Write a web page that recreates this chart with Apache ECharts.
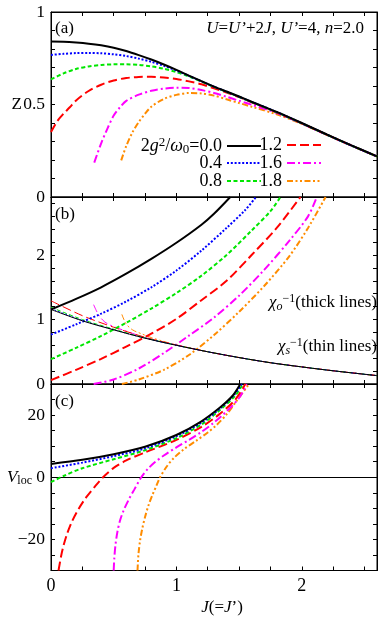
<!DOCTYPE html>
<html><head><meta charset="utf-8">
<script src="https://cdn.jsdelivr.net/npm/echarts@6/dist/echarts.min.js"></script>
<style>html,body{margin:0;padding:0;background:#fff}#c{width:382px;height:620px}</style>
</head><body><div id="c"></div><script>
const FONT = 'Liberation Serif';
const names = ['0.0', '0.4', '0.8', '1.2', '1.6', '1.8'];
const colors = ['#000000', '#0000ff', '#00e600', '#ff0000', '#ff00ff', '#ff8c00'];
const dashes = ['solid', [2, 1.8], [4, 2.5], [9, 4], [8, 3, 2, 3], [6, 2.5, 2, 2.5, 2, 2.5]];

// x ticks
const xTickLabels = ['0', '1', '2'];

// ---------- panel (a): Z vs J ----------
const aJ00 = [0, 0.1, 0.2, 0.3, 0.4, 0.5, 0.6, 0.7, 0.8, 0.9, 1.0, 1.1, 1.2, 1.3, 1.4, 1.5, 1.6, 1.8, 2.0, 2.2, 2.4, 2.6];
const aZ00 = [0.840, 0.839, 0.835, 0.829, 0.820, 0.807, 0.789, 0.767, 0.743, 0.716, 0.687, 0.656, 0.626, 0.597, 0.570, 0.543, 0.515, 0.460, 0.400, 0.338, 0.278, 0.220];
const aJ04 = [0, 0.1, 0.2, 0.3, 0.4, 0.5, 0.6, 0.7, 0.8, 0.9, 1.0, 1.1, 1.2, 1.3, 1.4, 1.5, 1.6, 1.8, 2.0, 2.2, 2.4, 2.6];
const aZ04 = [0.768, 0.774, 0.778, 0.779, 0.777, 0.771, 0.762, 0.748, 0.731, 0.709, 0.684, 0.655, 0.625, 0.596, 0.569, 0.542, 0.514, 0.459, 0.399, 0.337, 0.277, 0.219];
const aJ08 = [0, 0.1, 0.2, 0.3, 0.4, 0.5, 0.6, 0.7, 0.8, 0.9, 1.0, 1.1, 1.2, 1.3, 1.4, 1.5, 1.6, 1.8, 2.0, 2.2, 2.4, 2.6];
const aZ08 = [0.636, 0.668, 0.692, 0.706, 0.714, 0.717, 0.717, 0.714, 0.706, 0.693, 0.675, 0.652, 0.624, 0.595, 0.568, 0.541, 0.513, 0.458, 0.398, 0.337, 0.277, 0.219];
const aJ12 = [0, 0.05, 0.1, 0.15, 0.2, 0.3, 0.4, 0.5, 0.6, 0.7, 0.8, 0.9, 1.0, 1.1, 1.2, 1.3, 1.4, 1.5, 1.6, 1.8, 2.0, 2.2, 2.4, 2.6];
const aZ12 = [0.351, 0.410, 0.450, 0.485, 0.522, 0.573, 0.607, 0.630, 0.643, 0.649, 0.650, 0.646, 0.638, 0.625, 0.609, 0.588, 0.565, 0.540, 0.512, 0.457, 0.398, 0.337, 0.277, 0.219];
const aJ16 = [0.345, 0.4, 0.45, 0.5, 0.55, 0.6, 0.7, 0.8, 0.9, 1.0, 1.1, 1.2, 1.3, 1.4, 1.5, 1.6, 1.8, 2.0, 2.2, 2.4, 2.6];
const aZ16 = [0.186, 0.290, 0.370, 0.440, 0.485, 0.520, 0.553, 0.574, 0.586, 0.591, 0.589, 0.578, 0.562, 0.542, 0.520, 0.499, 0.454, 0.397, 0.336, 0.277, 0.219];
const aJ18 = [0.56, 0.6, 0.65, 0.7, 0.75, 0.8, 0.9, 1.0, 1.1, 1.2, 1.3, 1.4, 1.5, 1.6, 1.8, 2.0, 2.2, 2.4, 2.6];
const aZ18 = [0.198, 0.275, 0.350, 0.405, 0.450, 0.488, 0.530, 0.552, 0.562, 0.560, 0.548, 0.528, 0.508, 0.488, 0.447, 0.396, 0.336, 0.277, 0.219];

// ---------- panel (b): chi_o^-1 (thick) ----------
const bJ00 = [0, 0.2, 0.4, 0.6, 0.8, 1.0, 1.2, 1.3, 1.43];
const bO00 = [1.156, 1.32, 1.50, 1.71, 1.94, 2.19, 2.47, 2.64, 2.9];
const bJ04 = [0, 0.2, 0.4, 0.6, 0.8, 1.0, 1.2, 1.4, 1.55, 1.635];
const bO04 = [0.766, 0.925, 1.09, 1.28, 1.50, 1.76, 2.07, 2.42, 2.70, 2.9];
const bJ08 = [0, 0.2, 0.4, 0.6, 0.8, 1.0, 1.2, 1.4, 1.6, 1.75, 1.83];
const bO08 = [0.385, 0.56, 0.745, 0.95, 1.17, 1.41, 1.68, 2.00, 2.38, 2.68, 2.9];
const bJ12 = [0, 0.2, 0.4, 0.6, 0.8, 1.0, 1.2, 1.4, 1.6, 1.8, 1.99];
const bO12 = [0.06, 0.22, 0.39, 0.58, 0.78, 1.01, 1.30, 1.60, 2.00, 2.42, 2.9];
const bJ16 = [0.34, 0.5, 0.7, 0.9, 1.1, 1.3, 1.5, 1.7, 1.9, 2.05, 2.12];
const bO16 = [0, 0.07, 0.24, 0.48, 0.75, 1.03, 1.37, 1.77, 2.22, 2.60, 2.9];
const bJ18 = [0.565, 0.7, 0.9, 1.1, 1.3, 1.5, 1.7, 1.9, 2.05, 2.19];
const bO18 = [0, 0.07, 0.22, 0.45, 0.76, 1.12, 1.52, 1.98, 2.42, 2.9];

// ---------- panel (b): chi_s^-1 (thin) ----------
const sJ00 = [0, 0.25, 0.5, 0.75, 1.0, 1.25, 1.5, 1.75, 2.0, 2.25, 2.6];
const sS00 = [1.156, 0.98, 0.84, 0.71, 0.60, 0.50, 0.41, 0.33, 0.265, 0.205, 0.13];
const sJ04 = [0, 0.25, 0.5, 0.75, 1.0, 1.25, 1.5, 1.75, 2.0, 2.25, 2.6];
const sS04 = [1.17, 0.985, 0.842, 0.711, 0.60, 0.50, 0.41, 0.33, 0.265, 0.205, 0.13];
const sJ08 = [0, 0.25, 0.5, 0.75, 1.0, 1.25, 1.5, 1.75, 2.0, 2.25, 2.6];
const sS08 = [1.19, 1.0, 0.85, 0.715, 0.602, 0.50, 0.41, 0.33, 0.265, 0.205, 0.13];
const sJ12 = [0, 0.25, 0.5, 0.75, 1.0, 1.25, 1.5, 1.75, 2.0, 2.25, 2.6];
const sS12 = [1.29, 1.06, 0.88, 0.725, 0.605, 0.50, 0.41, 0.33, 0.265, 0.205, 0.13];
const sJ16 = [0.34, 0.38, 0.43, 0.5, 0.6, 0.75, 1.0, 1.25, 1.5, 1.75, 2.0, 2.25, 2.6];
const sS16 = [1.23, 1.07, 0.96, 0.89, 0.82, 0.72, 0.605, 0.50, 0.41, 0.33, 0.265, 0.205, 0.13];
const sJ18 = [0.565, 0.6, 0.65, 0.72, 0.8, 0.9, 1.0, 1.25, 1.5, 1.75, 2.0, 2.25, 2.6];
const sS18 = [1.08, 0.93, 0.84, 0.78, 0.72, 0.66, 0.605, 0.50, 0.41, 0.33, 0.265, 0.205, 0.13];

// ---------- panel (c): V_loc ----------
const cJ00 = [0, 0.25, 0.5, 0.75, 1.0, 1.2, 1.35, 1.45, 1.51];
const cV00 = [4.3, 5.6, 7.4, 9.8, 13.6, 18.0, 22.5, 26.3, 30];
const cJ04 = [0, 0.25, 0.5, 0.75, 1.0, 1.2, 1.35, 1.46, 1.52];
const cV04 = [2.9, 4.7, 6.8, 9.3, 13.2, 17.6, 22.2, 26.5, 30];
const cJ08 = [0, 0.1, 0.25, 0.5, 0.75, 1.0, 1.2, 1.35, 1.47, 1.53];
const cV08 = [-1.6, 0.4, 2.9, 5.8, 8.7, 12.6, 17.0, 21.7, 26.3, 30];
const cJ12 = [0.06, 0.08, 0.1, 0.13, 0.17, 0.22, 0.28, 0.35, 0.415, 0.5, 0.6, 0.75, 1.0, 1.2, 1.35, 1.47, 1.55];
const cV12 = [-30, -25.5, -22, -18, -14, -10.2, -6.5, -3.0, 0, 3.0, 5.4, 8.0, 12.0, 16.2, 20.5, 25.0, 30];
const cJ16 = [0.5, 0.505, 0.515, 0.53, 0.55, 0.58, 0.62, 0.665, 0.72, 0.77, 0.83, 0.9, 1.0, 1.1, 1.2, 1.3, 1.4, 1.5, 1.56];
const cV16 = [-30, -26, -21.5, -17.5, -14, -10.6, -7.2, -3.9, 0, 2.6, 4.9, 7.0, 9.6, 12.0, 14.6, 17.6, 21.2, 25.5, 30];
const cJ18 = [0.69, 0.697, 0.71, 0.728, 0.75, 0.778, 0.81, 0.84, 0.87, 0.92, 0.98, 1.06, 1.16, 1.25, 1.32, 1.4, 1.47, 1.58];
const cV18 = [-30, -25, -20.5, -16.5, -12.8, -9.0, -5.6, -2.8, 0, 3.3, 6.2, 9.0, 11.8, 14.4, 16.8, 20.2, 24.0, 30];

const panelA = [[aJ00, aZ00], [aJ04, aZ04], [aJ08, aZ08], [aJ12, aZ12], [aJ16, aZ16], [aJ18, aZ18]];
const panelBo = [[bJ00, bO00], [bJ04, bO04], [bJ08, bO08], [bJ12, bO12], [bJ16, bO16], [bJ18, bO18]];
const panelBs = [[sJ00, sS00], [sJ04, sS04], [sJ08, sS08], [sJ12, sS12], [sJ16, sS16], [sJ18, sS18]];
const panelC = [[cJ00, cV00], [cJ04, cV04], [cJ08, cV08], [cJ12, cV12], [cJ16, cV16], [cJ18, cV18]];

const near = (v, t) => Math.abs(v - t) < 1e-6;
const rich = {
  n: {fontFamily: FONT, fontSize: 17, color: '#000', lineHeight: 20},
  i: {fontFamily: FONT, fontSize: 17, color: '#000', lineHeight: 20, fontStyle: 'italic'},
  sup: {fontFamily: FONT, fontSize: 12, color: '#000', lineHeight: 12, verticalAlign: 'top'},
  sub: {fontFamily: FONT, fontSize: 12, color: '#000', lineHeight: 12, verticalAlign: 'bottom'},
  isub: {fontFamily: FONT, fontSize: 12, color: '#000', lineHeight: 12, verticalAlign: 'bottom', fontStyle: 'italic'}
};
const richL = {
  n: {fontFamily: FONT, fontSize: 18, color: '#000', lineHeight: 20},
  i: {fontFamily: FONT, fontSize: 18, color: '#000', lineHeight: 20, fontStyle: 'italic'},
  sup: {fontFamily: FONT, fontSize: 13, color: '#000', lineHeight: 13, verticalAlign: 'top'},
  sub: {fontFamily: FONT, fontSize: 13, color: '#000', lineHeight: 13, verticalAlign: 'bottom'}
};

const L = 51, R = 5;
const grids = [
  {left: L, right: R, top: 12, height: 185},
  {left: L, right: R, top: 197, height: 187},
  {left: L, right: R, top: 384, height: 186.5}
].map(g => Object.assign(g, {show: true, borderColor: '#000', borderWidth: 1, backgroundColor: 'transparent',
  containLabel: false, outerBoundsMode: 'none'}));

function xAx(g, pos, showLabels, name) {
  return {
    type: 'value', gridIndex: g, position: pos, min: 0, max: 2.6, interval: 0.25,
    axisLine: {show: true, onZero: false, lineStyle: {color: '#000', width: 1}},
    axisTick: {show: true, inside: true, length: 4, lineStyle: {color: '#000'}},
    axisLabel: {show: showLabels, fontFamily: FONT, fontSize: 18, color: '#000', margin: 7,
      formatter: v => { for (const t of xTickLabels) { if (near(v, +t)) return t; } return ''; }},
    splitLine: {show: false},
    name: name || '', nameLocation: 'middle', nameGap: 27, nameMoveOverlap: false,
    nameTextStyle: {rich: rich, padding: [0, 0, 0, 16]}
  };
}
function yAx(g, pos, min, max, interval, labels, name, nameGap) {
  return {
    type: 'value', gridIndex: g, position: pos, min: min, max: max, interval: interval,
    axisLine: {show: true, onZero: false, lineStyle: {color: '#000', width: 1}},
    axisTick: {show: true, inside: true, length: 4, lineStyle: {color: '#000'}},
    axisLabel: {show: !!labels, fontFamily: FONT, fontSize: 17.5, color: '#000', margin: 6,
      formatter: v => { if (!labels) return ''; for (const k in labels) { if (near(v, +k)) return labels[k]; } return ''; }},
    splitLine: {show: false},
    name: name || '', nameLocation: 'middle', nameRotate: 0, nameGap: nameGap || 20, nameMoveOverlap: false,
    nameTextStyle: {rich: rich, fontFamily: FONT, fontSize: 18, color: '#000'}
  };
}

const xAxes = [
  xAx(0, 'bottom', false), xAx(0, 'top', false),
  xAx(1, 'bottom', false), xAx(1, 'top', false),
  xAx(2, 'bottom', true, '{i|J}{n|(=}{i|J}{n|’)}'), xAx(2, 'top', false)
];
const yAxes = [
  yAx(0, 'left', 0, 1, 0.1, {'0': '0', '0.5': '0.5', '1': '1'}, '{n|Z}', 29),
  yAx(0, 'right', 0, 1, 0.1, null),
  yAx(1, 'left', 0, 2.9, 0.2, {'0': '0', '1': '1', '2': '2'}),
  yAx(1, 'right', 0, 2.9, 0.2, null),
  yAx(2, 'left', -30, 30, 5, {'-20': '−20', '0': '0', '20': '20'}, '{i|V}{sub|loc}', 19),
  yAx(2, 'right', -30, 30, 5, null)
];

function ser(k, xi, yi, pair, width, extra) {
  const [J, V] = pair;
  return Object.assign({
    type: 'line', name: names[k], xAxisIndex: xi, yAxisIndex: yi,
    data: J.map((j, i) => [j, V[i]]),
    showSymbol: false, symbol: 'none', smooth: 0.3, clip: true,
    lineStyle: {color: colors[k], width: width, type: dashes[k]},
    itemStyle: {color: colors[k]}, emphasis: {disabled: true}, silent: true
  }, extra || {});
}

const series = [];
panelA.forEach((p, k) => series.push(ser(k, 0, 0, p, 2, {z: 10 - k})));
panelBs.forEach((p, k) => series.push(ser(k, 2, 2, p, 1, {z: 10 - k})));
panelBo.forEach((p, k) => series.push(ser(k, 2, 2, p, 2, {z: 10 - k})));
panelC.forEach((p, k) => series.push(ser(k, 4, 4, p, 2, {z: 10 - k})));
series[series.length - 6].markLine = {
  silent: true, symbol: 'none', label: {show: false},
  lineStyle: {color: '#000', type: 'solid', width: 1}, data: [{yAxis: 0}]
};

// one legend per entry: column 1 icons end at x=262, column 2 at x=322
function legendItem(k) {
  const col = k < 3 ? 0 : 1, row = k % 3;
  return {
    data: [names[k]], right: col === 0 ? 120 : 60, top: 136 + row * 18,
    orient: 'horizontal', align: 'right',
    itemWidth: 34, itemHeight: 12, itemGap: 0, padding: 0, selectedMode: false,
    itemStyle: {color: 'rgba(0,0,0,0)', borderWidth: 0, opacity: 0},
    textStyle: {fontFamily: FONT, fontSize: 18, color: '#000', rich: richL},
    formatter: n => n === '0.0' ? '{n|2}{i|g}{sup|2}{n|/}{i|ω}{sub|0}{n|=0.0}' : n
  };
}

const txt = (x, y, text, align) => ({
  type: 'text', x: x, y: y, silent: true,
  style: {text: text, align: align || 'left', verticalAlign: 'middle', rich: rich,
    fontFamily: FONT, fontSize: 17, fill: '#000'}
});

const option = {
  animation: false,
  backgroundColor: '#fff',
  textStyle: {fontFamily: FONT},
  grid: grids,
  xAxis: xAxes,
  yAxis: yAxes,
  legend: names.map((n, k) => legendItem(k)),
  series: series,
  graphic: [
    txt(55, 29, '{n|(a)}'),
    txt(55, 215, '{n|(b)}'),
    txt(55, 402, '{n|(c)}'),
    txt(364, 29, '{i|U}{n|=}{i|U’}{n|+2}{i|J}{n|, }{i|U’}{n|=4, }{i|n}{n|=2.0}', 'right'),
    txt(377, 303, '{i|χ}{isub|o}{sup|−1}{n|(thick lines)}', 'right'),
    txt(377, 347, '{i|χ}{isub|s}{sup|−1}{n|(thin lines)}', 'right')
  ]
};

const chart = echarts.init(document.getElementById('c'), null, {renderer: 'canvas'});
chart.setOption(option);
</script></body></html>
